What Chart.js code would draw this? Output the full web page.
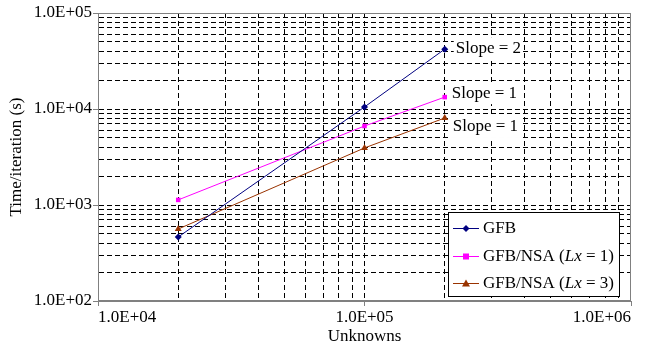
<!DOCTYPE html>
<html>
<head>
<meta charset="utf-8">
<script src="https://cdn.jsdelivr.net/npm/chart.js@4"></script>
<style>
  html, body { margin: 0; padding: 0; background: #fff; }
  #wrap { width: 645px; height: 347px; }
</style>
</head>
<body>
<div id="wrap"><canvas id="chart" width="645" height="347"></canvas></div>
<script>
// Problem sizes (unknowns) and measured times per iteration (s)
const unknowns = [20000, 100000, 200000];
const timeGFB = [464, 10500, 42000];
const timeNSA1 = [1130, 6650, 13300];
const timeNSA3 = [562, 3930, 8060];

const slopeLabels = ["Slope = 2", "Slope = 1", "Slope = 1"];

// Decades shown on each axis; every 1..9 multiple gets a dashed grid line
const xDecades = [1e4, 1e5, 1e6];
const yDecades = [1e2, 1e3, 1e4, 1e5];

const colors = {
  gfb: "#000080",
  nsa1: "#ff00ff",
  nsa3: "#993300",
  grid: "#000",
  frame: "#808080"
};

const FONT = "\"Liberation Serif\", \"Times New Roman\", serif";

function logTicks(decades) {
  const out = [];
  for (let i = 0; i < decades.length - 1; i++) {
    for (let m = 1; m < 10; m++) out.push(decades[i] * m);
  }
  out.push(decades[decades.length - 1]);
  return out;
}

function isDecade(v) {
  const l = Math.log10(v);
  return Math.abs(l - Math.round(l)) < 1e-9;
}

function sciLabel(v) {
  const e = Math.round(Math.log10(v));
  return "1.0E+" + String(e).padStart(2, "0");
}

// grid: dashed black inside, nothing on the frame edges (frame is drawn separately)
function gridOpts(min, max) {
  return {
    color: function(ctx) {
      const v = ctx.tick ? ctx.tick.value : null;
      if (v === null || v <= min * 1.0001 || v >= max * 0.9999) return "rgba(0,0,0,0)";
      return colors.grid;
    },
    lineWidth: 1,
    drawTicks: true,
    tickLength: 5,
    tickBorderDash: [],
    tickColor: function(ctx) {
      return ctx.tick && isDecade(ctx.tick.value) ? colors.frame : "rgba(0,0,0,0)";
    }
  };
}

// frame, slope notes and the legend box drawn on top
const overlayPlugin = {
  id: "overlay",
  afterDraw: function(chart) {
    const c = chart.ctx;
    const a = chart.chartArea;
    const xs = chart.scales.x;
    const ys = chart.scales.y;

    c.save();
    c.setLineDash([]);
    c.strokeStyle = colors.frame;
    c.lineWidth = 1;
    c.strokeRect(Math.round(a.left) + 0.5, Math.round(a.top) + 0.5,
      Math.round(a.right - a.left) - 1, Math.round(a.bottom - a.top) - 1);

    // slope notes next to the last point of each series
    c.font = "17px " + FONT;
    c.textBaseline = "middle";
    c.textAlign = "left";
    const lastX = xs.getPixelForValue(unknowns[unknowns.length - 1]);
    const noteY = [
      ys.getPixelForValue(timeGFB[2]) - 1,
      ys.getPixelForValue(timeNSA1[2]) - 4,
      ys.getPixelForValue(timeNSA3[2]) + 9
    ];
    const noteDx = [11, 7, 8];
    for (let i = 0; i < slopeLabels.length; i++) {
      const w = c.measureText(slopeLabels[i]).width;
      const x = lastX + noteDx[i];
      c.fillStyle = "#fff";
      c.fillRect(x - 2, noteY[i] - 11, w + 4, 22);
      c.fillStyle = "#000";
      c.fillText(slopeLabels[i], x, noteY[i]);
    }

    // legend
    const lx = 448, ly = 212, lw = 171, lh = 84;
    c.fillStyle = "#fff";
    c.fillRect(lx, ly, lw, lh);
    c.strokeStyle = "#000";
    c.strokeRect(lx + 0.5, ly + 0.5, lw, lh);

    const entries = [
      { color: colors.gfb, shape: "diamond", parts: [["GFB", false]] },
      { color: colors.nsa1, shape: "square", parts: [["GFB/NSA (", false], ["Lx", true], [" = 1)", false]] },
      { color: colors.nsa3, shape: "triangle", parts: [["GFB/NSA (", false], ["Lx", true], [" = 3)", false]] }
    ];
    const rowY = [228, 256, 283];
    entries.forEach(function(e, i) {
      const y = rowY[i];
      c.strokeStyle = e.color;
      c.lineWidth = 1;
      c.beginPath();
      c.moveTo(453, y + 0.5);
      c.lineTo(479, y + 0.5);
      c.stroke();
      drawMarker(c, e.shape, 466, y + 0.5, e.color);
      let tx = 483;
      c.fillStyle = "#000";
      e.parts.forEach(function(p) {
        c.font = (p[1] ? "italic " : "") + "17px " + FONT;
        c.fillText(p[0], tx, y + 1);
        tx += c.measureText(p[0]).width;
      });
    });
    c.restore();
  }
};

function drawMarker(c, shape, x, y, color) {
  c.fillStyle = color;
  c.beginPath();
  if (shape === "diamond") {
    c.moveTo(x, y - 3.5); c.lineTo(x + 3.5, y); c.lineTo(x, y + 3.5); c.lineTo(x - 3.5, y);
  } else if (shape === "square") {
    c.rect(x - 3, y - 3, 6, 6);
  } else {
    c.moveTo(x, y - 4); c.lineTo(x + 4, y + 3); c.lineTo(x - 4, y + 3);
  }
  c.closePath();
  c.fill();
}

function series(label, data, color, style, radius) {
  return {
    label: label,
    data: unknowns.map(function(u, i) { return { x: u, y: data[i] }; }),
    borderColor: color,
    backgroundColor: color,
    borderWidth: 1,
    pointStyle: style,
    pointRadius: radius,
    pointHoverRadius: radius,
    pointBorderWidth: 0,
    fill: false,
    tension: 0
  };
}

new Chart(document.getElementById("chart").getContext("2d"), {
  type: "line",
  data: {
    datasets: [
      series("GFB", timeGFB, colors.gfb, "rectRot", 3.5),
      series("GFB/NSA (Lx = 1)", timeNSA1, colors.nsa1, "rect", 3.2),
      series("GFB/NSA (Lx = 3)", timeNSA3, colors.nsa3, "triangle", 4)
    ]
  },
  options: {
    responsive: false,
    animation: false,
    layout: { padding: { top: 13, right: 14, left: 0, bottom: 0 } },
    plugins: {
      legend: { display: false },
      tooltip: { enabled: false }
    },
    scales: {
      x: {
        type: "logarithmic",
        min: xDecades[0],
        max: xDecades[xDecades.length - 1],
        afterBuildTicks: function(scale) {
          scale.ticks = logTicks(xDecades).map(function(v) { return { value: v }; });
        },
        afterFit: function(scale) {
          scale.height = 46;
          scale.paddingLeft = 0;
          scale.paddingRight = 0;
        },
        grid: gridOpts(xDecades[0], xDecades[xDecades.length - 1]),
        border: { display: true, color: colors.frame, width: 1, dash: [5, 3] },
        ticks: {
          autoSkip: false,
          maxRotation: 0,
          align: "inner",
          padding: 1,
          color: "#000",
          font: { family: FONT, size: 17 },
          callback: function(v) { return isDecade(v) ? sciLabel(v) : ""; }
        },
        title: {
          display: true,
          text: "Unknowns",
          color: "#000",
          font: { family: FONT, size: 17 },
          padding: { top: 0, bottom: 0 }
        }
      },
      y: {
        type: "logarithmic",
        min: yDecades[0],
        max: yDecades[yDecades.length - 1],
        afterBuildTicks: function(scale) {
          scale.ticks = logTicks(yDecades).map(function(v) { return { value: v }; });
        },
        afterFit: function(scale) {
          scale.width = 98;
        },
        grid: gridOpts(yDecades[0], yDecades[yDecades.length - 1]),
        border: { display: true, color: colors.frame, width: 1, dash: [5, 3] },
        ticks: {
          autoSkip: false,
          padding: 1,
          color: "#000",
          font: { family: FONT, size: 17 },
          callback: function(v) { return isDecade(v) ? sciLabel(v) : ""; }
        },
        title: {
          display: true,
          text: "Time/iteration (s)",
          color: "#000",
          font: { family: FONT, size: 17 },
          padding: { top: 6, bottom: 0 }
        }
      }
    }
  },
  plugins: [overlayPlugin]
});
</script>
</body>
</html>
